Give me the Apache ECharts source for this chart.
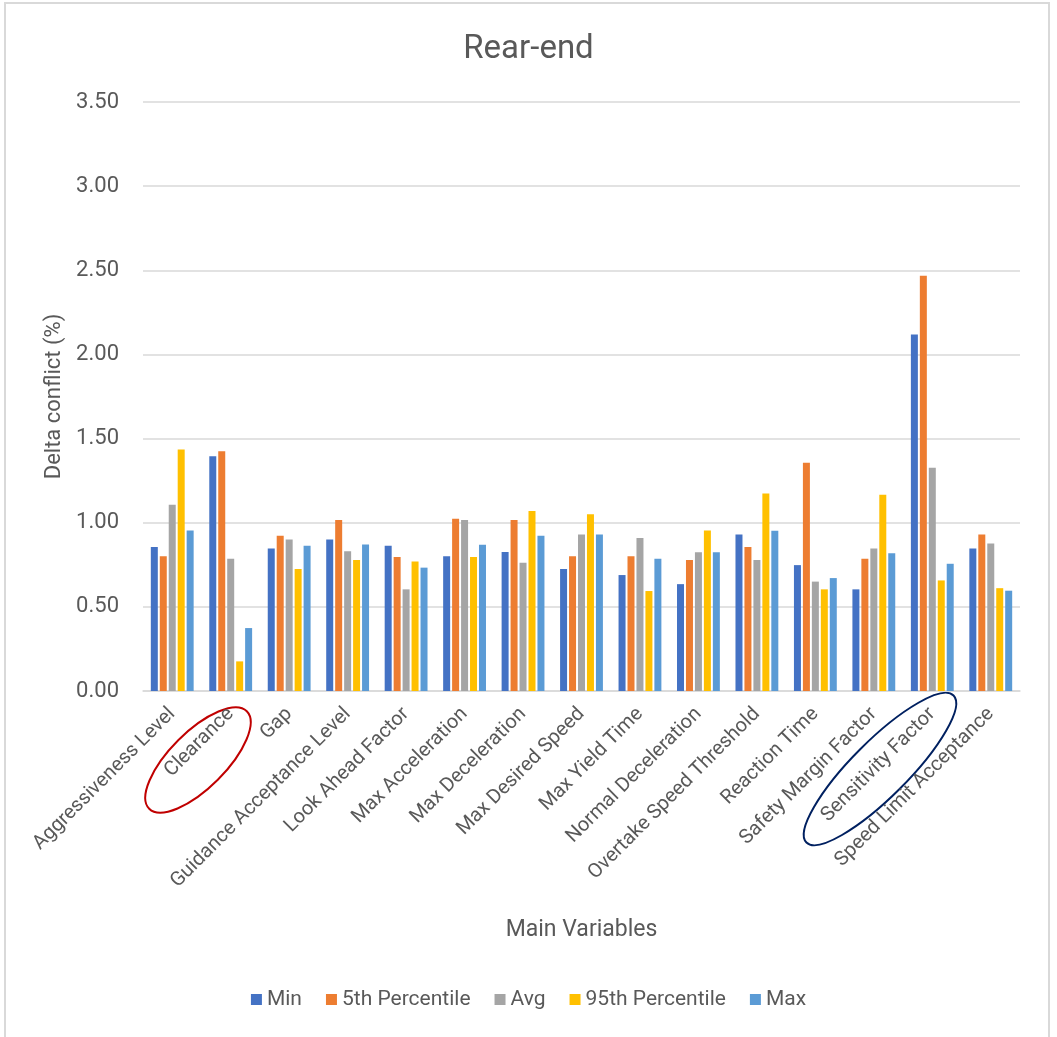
<!DOCTYPE html>
<html><head><meta charset="utf-8">
<script src="https://cdn.jsdelivr.net/npm/echarts@6/dist/echarts.min.js"></script>
<style>html,body{margin:0;padding:0;background:#fff}#c{width:1057px;height:1037px}</style>
</head><body><div id="c"></div>
<script>
const categories = ["Aggressiveness Level","Clearance","Gap","Guidance Acceptance Level","Look Ahead Factor","Max Acceleration","Max Deceleration","Max Desired Speed","Max Yield Time","Normal Deceleration","Overtake Speed Threshold","Reaction Time","Safety Margin Factor","Sensitivity Factor","Speed Limit Acceptance"];
const minVals  = [0.855,1.395,0.847,0.900,0.863,0.800,0.826,0.725,0.689,0.635,0.930,0.748,0.604,2.118,0.847];
const p5Vals   = [0.800,1.425,0.922,1.016,0.796,1.024,1.016,0.800,0.800,0.778,0.855,1.356,0.786,2.468,0.930];
const avgVals  = [1.107,0.786,0.900,0.831,0.604,1.016,0.762,0.930,0.909,0.824,0.778,0.650,0.847,1.326,0.877];
const p95Vals  = [1.435,0.176,0.725,0.778,0.770,0.796,1.069,1.051,0.594,0.954,1.174,0.604,1.166,0.657,0.611];
const maxVals  = [0.954,0.374,0.863,0.871,0.733,0.869,0.922,0.930,0.786,0.824,0.952,0.671,0.818,0.756,0.596];
const seriesNames = ["Min","5th Percentile","Avg","95th Percentile","Max"];
const colors = ["#4472C4","#ED7D31","#A5A5A5","#FFC000","#5B9BD5"];
const FONT = "Roboto, 'Liberation Sans', sans-serif";

const chart = echarts.init(document.getElementById('c'), null, {renderer:'canvas'});
const data = [minVals,p5Vals,avgVals,p95Vals,maxVals];
chart.setOption({
  animation:false,
  backgroundColor:'#fff',
  textStyle:{fontFamily:FONT},
  title:{text:'Rear-end',left:'center',top:28,textStyle:{fontFamily:FONT,fontSize:33,fontWeight:'normal',color:'#595959'}},
  grid:{left:143,right:37,top:102,bottom:346},
  legend:{bottom:22,left:'center',itemWidth:11,itemHeight:11,itemGap:24,icon:'rect',
    textStyle:{fontFamily:FONT,fontSize:21,color:'#595959'},data:seriesNames},
  xAxis:{type:'category',data:categories,
    axisLine:{lineStyle:{color:'#D9D9D9',width:1.5}},axisTick:{show:false},
    axisLabel:{rotate:45,fontFamily:FONT,fontSize:20,color:'#595959',interval:0,margin:20},
    name:'Main Variables',nameLocation:'middle',nameGap:228,
    nameTextStyle:{fontFamily:FONT,fontSize:23,color:'#595959'}},
  yAxis:{type:'value',min:0,max:3.5,interval:0.5,
    axisLabel:{formatter:v=>v.toFixed(2),fontFamily:FONT,fontSize:22,color:'#595959',margin:24},
    splitLine:{lineStyle:{color:'#D9D9D9',width:1.5}},axisLine:{show:false},axisTick:{show:false},
    name:'Delta conflict (%)',nameLocation:'middle',nameGap:78,
    nameTextStyle:{fontFamily:FONT,fontSize:22,color:'#595959'}},
  series:seriesNames.map((n,i)=>({name:n,type:'bar',data:data[i],barWidth:7,barGap:'28%',
    itemStyle:{color:colors[i]}})),
  graphic:[
    {type:'rect',shape:{x:5,y:3,width:1044,height:1040},style:{fill:null,stroke:'#D9D9D9',lineWidth:2},silent:true},
    {type:'ellipse',x:198,y:760,rotation:Math.PI/4,shape:{cx:0,cy:0,rx:69,ry:28},style:{fill:null,stroke:'#C00000',lineWidth:2}},
    {type:'ellipse',x:880,y:769,rotation:Math.PI/4,shape:{cx:0,cy:0,rx:104,ry:28},style:{fill:null,stroke:'#002060',lineWidth:2}}
  ]
});
</script></body></html>
